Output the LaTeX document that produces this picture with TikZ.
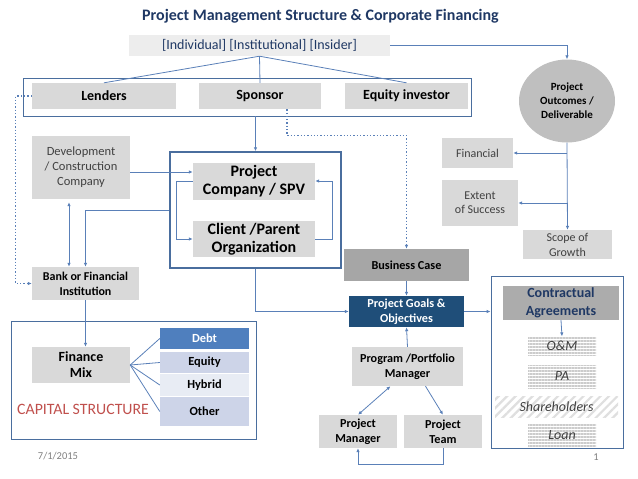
\documentclass[tikz,border=0pt]{standalone}
\usepackage{fontspec}
\setmainfont{Carlito}
\usepackage{tikz}
\usetikzlibrary{calc,arrows.meta,patterns.meta,shapes.geometric}
\definecolor{pmnavy}{HTML}{1F3864}
\definecolor{pmline}{HTML}{5A80B8}
\definecolor{pmframe}{HTML}{4A6E9E}
\definecolor{pmbox}{HTML}{D9D9D9}
\definecolor{pmpale}{HTML}{EDEDED}
\definecolor{pmmid}{HTML}{BFBFBF}
\definecolor{pmdark}{HTML}{A6A6A6}
\definecolor{pmgoal}{HTML}{1F4E79}
\definecolor{pmdebt}{HTML}{4F7FBE}
\definecolor{pmequity}{HTML}{CDD4E8}
\definecolor{pmhybrid}{HTML}{E8ECF4}
\definecolor{pmred}{HTML}{C0504D}
\definecolor{pmtext}{HTML}{404040}

\begin{document}
\begin{tikzpicture}[x=1pt, y=-1pt,
  box/.style={fill=pmbox, inner sep=0pt, align=center},
  frame/.style={draw=pmframe, line width=0.8pt, inner sep=0pt},
  link/.style={pmline, line width=0.8pt},
  arr/.style={link, -{Latex[length=4pt,width=3.5pt]}},
  darr/.style={link, {Latex[length=4pt,width=3.5pt]}-{Latex[length=4pt,width=3.5pt]}},
  dotline/.style={pmline, line width=1.3pt, dotted, -{Latex[length=4pt,width=3.5pt]}},
  hlines/.style={pattern={Lines[angle=0,distance=3pt,line width=1.2pt]},
    pattern color=gray!40, inner sep=0pt, text=pmtext,
    font=\itshape\fontsize{14}{16}\selectfont}]
  \useasboundingbox (0,0) rectangle (638,479);

  % Title
  \node[font=\bfseries\fontsize{16}{18}\selectfont, text=pmnavy] (title) at (320.5,16)
    {Project Management Structure \& Corporate Financing};

  % Frames
  \node[frame, minimum width=448, minimum height=38] (stakefr) at (247,97) {};
  \node[frame, line width=1.5pt, minimum width=171, minimum height=116] (spvfr) at (255.5,210) {};
  \node[frame, minimum width=245, minimum height=118] (capfr) at (133.5,380) {};
  \node[frame, minimum width=132, minimum height=172] (confr) at (557,362) {};

  % Investors
  \node[box, fill=pmpale, minimum width=261, minimum height=21, text=pmnavy,
    font=\fontsize{14}{16}\selectfont] (grp) at (259.5,45.5)
    {[Individual] [Institutional] [Insider]};
  \node[box, minimum width=144, minimum height=26, font=\bfseries\fontsize{14}{16}\selectfont]
    (lenders) at (104,96) {Lenders};
  \node[box, minimum width=122, minimum height=26, font=\bfseries\fontsize{14}{16}\selectfont]
    (sponsor) at (260,96) {Sponsor};
  \node[box, minimum width=123, minimum height=26, font=\bfseries\fontsize{14}{16}\selectfont]
    (equity) at (406.5,96) {Equity investor};

  % Outcomes
  \node[ellipse, fill=pmmid, minimum width=96, minimum height=83, inner sep=0pt, align=center,
    font=\bfseries\fontsize{11}{14}\selectfont] (outcome) at (567,101)
    {Project\\Outcomes /\\Deliverable};
  \node[box, minimum width=71, minimum height=30, text=pmtext,
    font=\fontsize{12}{14}\selectfont] (financial) at (477.5,153) {Financial};
  \node[box, minimum width=76, minimum height=46, text=pmtext,
    font=\fontsize{12}{14}\selectfont] (extent) at (480,203) {Extent\\of Success};
  \node[box, minimum width=89, minimum height=29, text=pmtext,
    font=\fontsize{12}{15}\selectfont] (scope) at (567.5,244.5) {Scope of\\Growth};

  % Project company
  \node[box, minimum width=98, minimum height=63, text=pmtext,
    font=\fontsize{12.5}{15}\selectfont] (devco) at (81,167.5)
    {Development\\/ Construction\\Company};
  \node[box, minimum width=122, minimum height=37, font=\bfseries\fontsize{16}{18}\selectfont]
    (projco) at (254,181) {Project\\Company / SPV};
  \node[box, minimum width=122, minimum height=36, font=\bfseries\fontsize{16}{18}\selectfont]
    (client) at (254,239) {Client /Parent\\Organization};
  \node[box, minimum width=107, minimum height=33, font=\bfseries\fontsize{12}{15}\selectfont]
    (bank) at (85.5,283.5) {Bank or Financial\\Institution};

  % Capital structure
  \node[box, minimum width=98, minimum height=36, font=\bfseries\fontsize{14}{16}\selectfont]
    (finmix) at (81,365) {Finance\\Mix};
  \node[box, fill=pmdebt, text=white, minimum width=89, minimum height=21,
    font=\bfseries\fontsize{12.4}{14}\selectfont] (debt) at (204.5,338.5) {Debt};
  \node[box, fill=pmequity, minimum width=89, minimum height=21,
    font=\bfseries\fontsize{12.4}{14}\selectfont] (eqty) at (204.5,362.5) {Equity};
  \node[box, fill=pmhybrid, minimum width=89, minimum height=22,
    font=\bfseries\fontsize{12.4}{14}\selectfont] (hybrid) at (204.5,385) {Hybrid};
  \node[box, fill=pmequity, minimum width=89, minimum height=29,
    font=\bfseries\fontsize{12.4}{14}\selectfont] (other) at (204.5,411.5) {Other};
  \node[anchor=west, text=pmred, inner sep=0pt, font=\fontsize{15.8}{18}\selectfont]
    (caplabel) at (17,409) {CAPITAL STRUCTURE};

  % Goals and team
  \node[box, fill=pmdark, minimum width=125, minimum height=32,
    font=\bfseries\fontsize{12.2}{14}\selectfont] (business) at (406.5,265) {Business Case};
  \node[box, fill=pmgoal, text=white, minimum width=115, minimum height=31,
    font=\bfseries\fontsize{12.2}{15}\selectfont] (goals) at (406.5,311.5)
    {Project Goals \&\\Objectives};
  \node[box, minimum width=111, minimum height=39, font=\bfseries\fontsize{12.2}{15}\selectfont]
    (program) at (407.5,366.5) {Program /Portfolio\\Manager};
  \node[box, minimum width=78, minimum height=33, font=\bfseries\fontsize{12.2}{15}\selectfont]
    (pm) at (358,431.5) {Project\\Manager};
  \node[box, minimum width=78, minimum height=33, font=\bfseries\fontsize{12.2}{15}\selectfont]
    (team) at (443,431.5) {Project\\Team};

  % Contracts
  \node[box, fill=pmmid!90!black, minimum width=116, minimum height=34, text=pmnavy,
    font=\bfseries\fontsize{14}{18}\selectfont] (contract) at (561,303)
    {Contractual\\Agreements};
  \node[hlines, minimum width=68, minimum height=18] (om) at (562,346) {O\&M};
  \node[hlines, minimum width=68, minimum height=23] (pa) at (562,376.5) {PA};
  \node[hlines, pattern={Lines[angle=45,distance=6pt,line width=2.2pt]}, pattern color=gray!25,
    minimum width=123, minimum height=21] (share) at (556.5,406.5) {Shareholders};
  \node[hlines, minimum width=68, minimum height=24] (loan) at (562,435) {Loan};

  % Footer
  \node[text=gray, font=\fontsize{10.5}{12}\selectfont] (date) at (58,456) {7/1/2015};
  \node[text=gray, font=\fontsize{10.5}{12}\selectfont] (page) at (596,457) {1};

  % Connectors at the top
  \draw[arr] (grp.east) -| (outcome.north);
  \draw[link] (grp.south) -- (lenders.north);
  \draw[link] (grp.south) -- (sponsor.north);
  \draw[link] (grp.south) -- (equity.north);
  \draw[dotline] (lenders.west) -- ++(-16,0) |- (bank.west);
  \draw[dotline] ($(sponsor.south)+(27,0)$) -- ++(0,26) -| (business.north);
  \draw[arr] (spvfr.north |- stakefr.south) -- (spvfr.north);

  % Connectors around the project company
  \coordinate (pin) at ($(projco.west)+(0,-9)$);
  \draw[arr] (devco.east |- pin) -- (pin);
  \draw[arr] (projco.west) -- ++(-16,0) |- (client.west);
  \draw[arr] (client.east) -- ++(17,0) |- (projco.east);
  \draw[arr] (spvfr.west) -| (bank.north);
  \coordinate (dv) at ($(devco.south)+(-12,3)$);
  \draw[darr] (dv) -- (dv |- bank.north);
  \draw[arr] (bank.south) -- (bank.south |- finmix.north);
  \foreach \part in {debt,eqty,hybrid,other}
    \draw[link] (finmix.east) -- (\part.west);

  % Connectors to the goals
  \draw[arr] (spvfr.south) |- (goals.west);
  \draw[arr] (business.south) -- (goals.north);
  \draw[arr] (goals.east) -- (goals.east -| confr.west);
  \draw[arr] (program.north) -- (goals.south);
  \draw[darr] ($(program.south)+(-17,0)$) -- (pm.north);
  \draw[arr] ($(program.south)+(18,0)$) -- (team.north);
  \draw[arr] (team.south) -- ++(0,16) -| (pm.south);
  \draw[arr] (contract.south) -- (om.north);

  % Outcome branches
  \draw[arr] (outcome.south) -- (scope.north);
  \draw[arr] (outcome.south |- financial.east) -- (financial.east);
  \draw[arr] (outcome.south |- extent.east) -- (extent.east);
\end{tikzpicture}
\end{document}
